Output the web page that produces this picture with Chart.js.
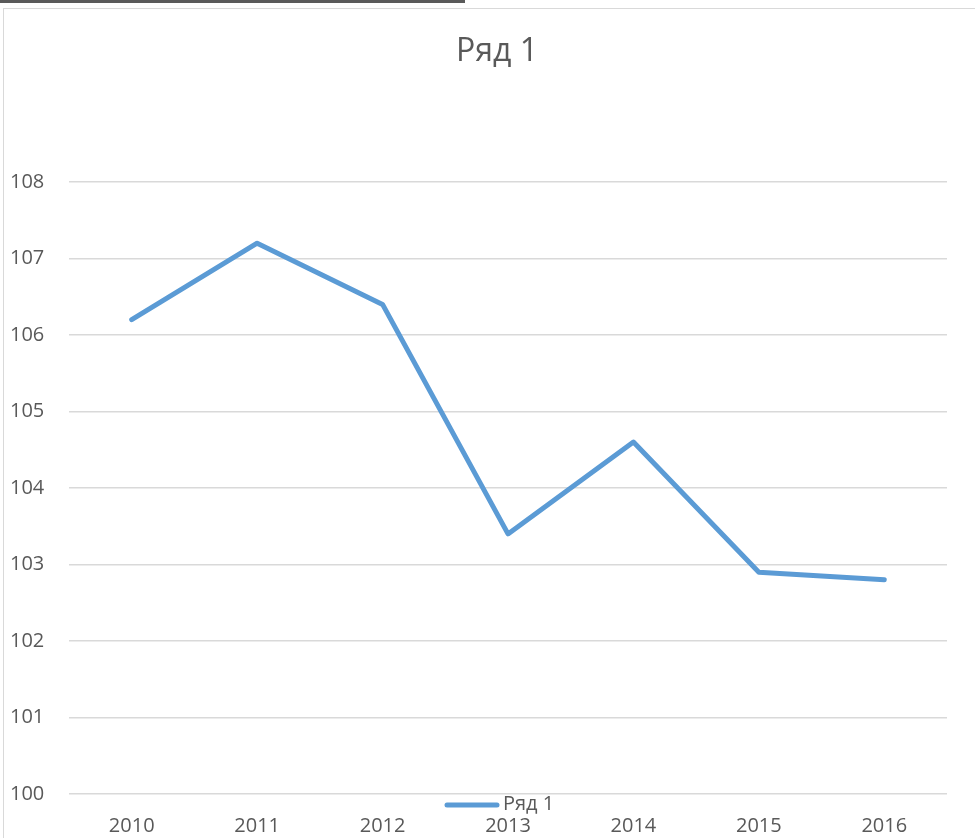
<!DOCTYPE html>
<html>
<head>
<meta charset="utf-8">
<script src="https://cdn.jsdelivr.net/npm/chart.js@4/dist/chart.umd.min.js"></script>
<style>
    html, body { margin: 0; padding: 0; background: #fff; overflow: hidden; }
    #wrap { position: relative; width: 975px; height: 838px; }
    #topbar { position: absolute; left: 0; top: 0; width: 465px; height: 3px; background: #5a5a5a; }
    #frame { position: absolute; left: 3px; top: 8px; width: 990px; height: 840px;
             border-left: 1.5px solid #d9d9d9; border-top: 1.5px solid #d9d9d9; box-sizing: border-box; }
    canvas { position: absolute; left: 0; top: 0; }
</style>
</head>
<body>
<div id="wrap">
    <div id="topbar"></div>
    <div id="frame"></div>
    <canvas id="chart" width="975" height="838"></canvas>
</div>
<script>
// chart data
const years = ['2010', '2011', '2012', '2013', '2014', '2015', '2016'];
const seriesValues = [106.2, 107.2, 106.4, 103.4, 104.6, 102.9, 102.8];
const seriesName = 'Ряд 1';
const yMin = 100, yMax = 108, yStep = 1;

const textColor = '#595959';
const lineColor = '#5b9bd5';
const fontFamily = '"Open Sans", "Noto Sans", sans-serif';

// title and legend are drawn by hand: title is centred on the frame,
// legend sits over the bottom of the plot, like in the original
const overlays = {
    id: 'overlays',
    afterDraw(chart) {
        const ctx = chart.ctx;
        const ds = chart.data.datasets[0];
        ctx.save();
        ctx.fillStyle = textColor;
        ctx.font = '32px ' + fontFamily;
        ctx.textAlign = 'center';
        ctx.textBaseline = 'middle';
        ctx.fillText(seriesName, 497, 52);

        ctx.strokeStyle = ds.borderColor;
        ctx.lineWidth = 5;
        ctx.lineCap = 'round';
        ctx.beginPath();
        ctx.moveTo(447, 805);
        ctx.lineTo(497, 805);
        ctx.stroke();
        ctx.font = '20px ' + fontFamily;
        ctx.textAlign = 'left';
        ctx.fillText(ds.label, 503, 804);
        ctx.restore();
    }
};

new Chart(document.getElementById('chart'), {
    type: 'line',
    data: {
        labels: years,
        datasets: [{
            label: seriesName,
            data: seriesValues,
            borderColor: lineColor,
            borderWidth: 5,
            borderCapStyle: 'round',
            borderJoinStyle: 'round',
            pointRadius: 0,
            tension: 0,
            fill: false
        }]
    },
    options: {
        responsive: false,
        animation: false,
        layout: { padding: { left: 10, right: 28, top: 182, bottom: 2 } },
        plugins: {
            legend: { display: false },
            tooltip: { enabled: false },
            title: { display: false }
        },
        scales: {
            x: {
                offset: true,
                grid: { display: false, drawTicks: false },
                border: { display: false },
                ticks: {
                    color: textColor,
                    font: { family: fontFamily, size: 20 },
                    padding: 20,
                    maxRotation: 0
                },
                afterFit: function (scale) { scale.height = 42; }
            },
            y: {
                min: yMin,
                max: yMax,
                grid: { color: '#d9d9d9', lineWidth: 1.5, drawTicks: false },
                border: { display: false },
                ticks: {
                    stepSize: yStep,
                    color: textColor,
                    font: { family: fontFamily, size: 20 },
                    crossAlign: 'far'
                },
                afterFit: function (scale) { scale.width = 59; }
            }
        }
    },
    plugins: [overlays]
});
</script>
</body>
</html>
